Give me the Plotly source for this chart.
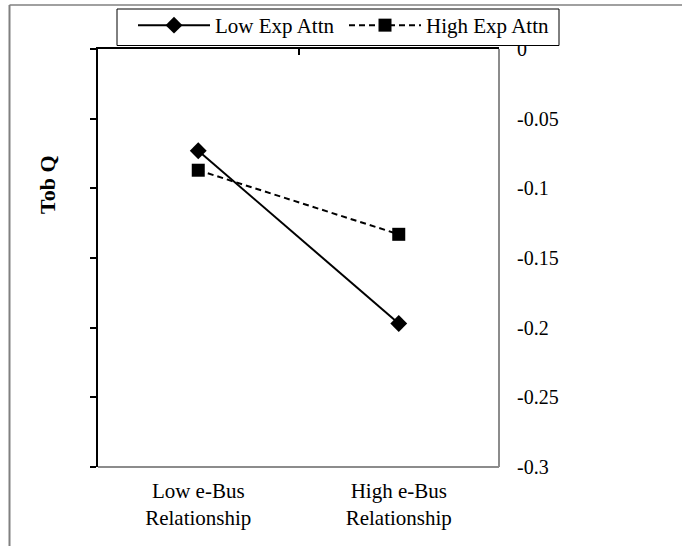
import plotly.graph_objects as go

categories = ["Low e-Bus<br>Relationship", "High e-Bus<br>Relationship"]
cat_pos = [0, 1]
low_exp_attn = [-0.073, -0.197]
high_exp_attn = [-0.087, -0.133]
y_ticks = [0, -0.05, -0.1, -0.15, -0.2, -0.25, -0.3]
y_tick_labels = ["0", "-0.05", "-0.1", "-0.15", "-0.2", "-0.25", "-0.3"]

FONT = "Liberation Serif, Times New Roman, serif"

fig = go.Figure()
fig.add_trace(go.Scatter(
    x=cat_pos, y=low_exp_attn, name="Low Exp Attn", mode="lines+markers",
    line=dict(color="black", width=2),
    marker=dict(symbol="diamond", size=13, color="black"),
))
fig.add_trace(go.Scatter(
    x=cat_pos, y=high_exp_attn, name="High Exp Attn", mode="lines+markers",
    line=dict(color="black", width=2, dash="6px,4px"),
    marker=dict(symbol="square", size=13, color="black"),
))
# invisible trace to activate secondary axes
fig.add_trace(go.Scatter(x=cat_pos, y=low_exp_attn, xaxis="x2", yaxis="y2",
                         mode="markers", marker=dict(opacity=0), showlegend=False,
                         hoverinfo="skip"))

W, H = 682, 546
L, R, T, B = 98, 183, 49, 79
PW, PH = W - L - R, H - T - B


def px_x(px):
    return (px - L) / PW


def px_y(py):
    return (H - B - py) / PH


fig.update_layout(
    width=W, height=H,
    margin=dict(l=L, r=R, t=T, b=B, autoexpand=False),
    paper_bgcolor="white", plot_bgcolor="white",
    font=dict(family=FONT, color="black", size=20),
    showlegend=True,
    legend=dict(
        orientation="h", x=px_x(555), xanchor="right", y=px_y(5), yanchor="top",
        borderwidth=0, bgcolor="rgba(0,0,0,0)",
        font=dict(family=FONT, size=21, color="black"),
        entrywidth=124, itemwidth=72,
    ),
    xaxis=dict(
        range=[-0.5, 1.5], tickvals=cat_pos, ticktext=categories,
        showline=False, showgrid=False, zeroline=False, ticks="",
        tickfont=dict(family=FONT, size=21), ticklabelstandoff=9, automargin=False,
    ),
    xaxis2=dict(
        range=[-0.5, 1.5], overlaying="x", side="top", anchor="y",
        showline=True, linecolor="black", linewidth=1.5, mirror=False,
        tickvals=[-0.5, 0.5, 1.5], ticks="inside", ticklen=6, tickwidth=1.5,
        tickcolor="black", showticklabels=False, showgrid=False, zeroline=False,
        automargin=False,
    ),
    yaxis=dict(
        range=[-0.3, 0], side="right", tickvals=y_ticks, ticktext=y_tick_labels,
        showline=False, showgrid=False, zeroline=False, ticks="",
        tickfont=dict(family=FONT, size=20), ticklabelstandoff=17, automargin=False,
    ),
    yaxis2=dict(
        range=[-0.3, 0], overlaying="y", side="left", anchor="x",
        showline=True, linecolor="black", linewidth=1.5,
        tickvals=y_ticks, ticks="outside", ticklen=6, tickwidth=1.5, tickcolor="black",
        showticklabels=False, showgrid=False, zeroline=False, automargin=False,
    ),
    shapes=[
        # plot area border (right and bottom gray)
        dict(type="line", xref="paper", yref="paper", x0=1, x1=1, y0=0, y1=1,
             line=dict(color="#8c8c8c", width=2), layer="above"),
        dict(type="line", xref="paper", yref="paper", x0=0, x1=1, y0=0, y1=0,
             line=dict(color="#8c8c8c", width=2), layer="above"),
        # legend box
        dict(type="rect", xref="paper", yref="paper", x0=px_x(117), x1=px_x(559),
             y0=px_y(45.5), y1=px_y(9), line=dict(color="black", width=1),
             fillcolor="white", layer="above"),
        # outer frame lines
        dict(type="line", xref="paper", yref="paper", x0=px_x(9.5), x1=px_x(684),
             y0=px_y(5), y1=px_y(5), line=dict(color="#808080", width=1.5)),
        dict(type="line", xref="paper", yref="paper", x0=px_x(9.5), x1=px_x(9.5),
             y0=px_y(5), y1=px_y(548), line=dict(color="#808080", width=2)),
    ],
    annotations=[
        dict(text="<b>Tob Q</b>", xref="paper", yref="paper", x=px_x(47), y=px_y(185),
             textangle=-90, showarrow=False, font=dict(family=FONT, size=22, color="black"),
             xanchor="center", yanchor="middle"),
    ],
)

fig.write_html("out.html", config={"displayModeBar": False},
               post_script="document.body.style.margin='0';")
